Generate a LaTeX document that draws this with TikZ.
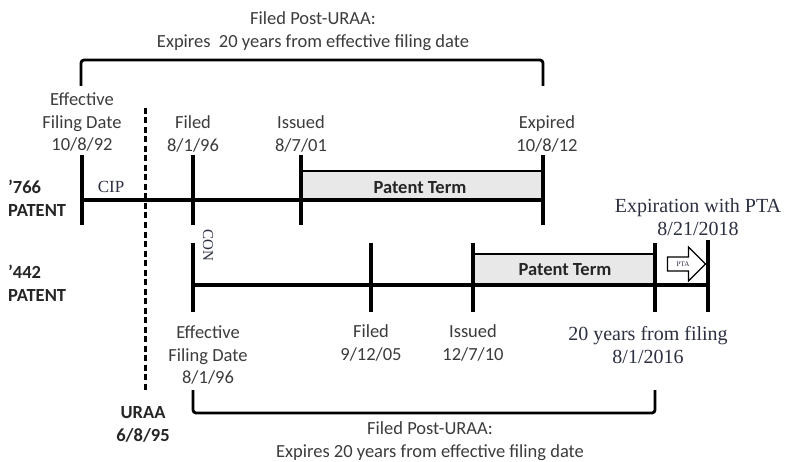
\documentclass[tikz,border=0pt]{standalone}
\usepackage{fontspec}
\setmainfont{Carlito}
\newfontfamily\serifface{Liberation Serif}
\usetikzlibrary{shapes.arrows}
\definecolor{txt}{HTML}{3C3C3C}
\definecolor{btxt}{HTML}{262626}
\definecolor{stxt}{HTML}{2C3040}
\begin{document}
\begin{tikzpicture}[x=1pt,y=-1pt,
  lbl/.style={align=center,text=txt,font=\fontsize{18.5}{22.5}\selectfont,inner sep=0pt},
  blbl/.style={align=center,text=btxt,font=\fontsize{18.5}{23}\selectfont\bfseries,inner sep=0pt},
  slbl/.style={align=center,text=stxt,font=\serifface\fontsize{20}{23.5}\selectfont,inner sep=0pt},
  tline/.style={line width=3.2pt},
  tick/.style={line width=3.2pt},
  bracket/.style={line width=2.8pt,rounded corners=3pt},
  termbox/.style={fill=gray!18,draw=black,line width=2pt},
  termtxt/.style={font=\fontsize{18.5}{18.5}\selectfont\bfseries,text=btxt,inner sep=0pt}]
\useasboundingbox (0,0) rectangle (786,462);
\fill[white] (0,0) rectangle (786,462);

% ---------- top bracket
\node[lbl] (toptxt) at (313,31) {Filed Post-URAA:\\Expires\ \ 20 years from effective filing date};
\coordinate (tbl) at (81,86);
\coordinate (tbr) at (543,86);
\draw[bracket] (tbl) -- (81,60) -- (543,60) -- (tbr);

% ---------- '766 patent
\coordinate (a1t) at (82,155); \coordinate (a1b) at (82,225);
\coordinate (a2t) at (193,155); \coordinate (a2b) at (193,225);
\coordinate (a3t) at (301,155); \coordinate (a3b) at (301,225);
\coordinate (a4t) at (543,155); \coordinate (a4b) at (543,225);
\coordinate (a1) at (82,200); \coordinate (a3) at (301,200); \coordinate (a4) at (543,200);
\node[termbox,minimum width=242pt,minimum height=28pt,inner sep=0pt,anchor=south west] (term1) at (301,200) {};
\node[termtxt] (term1t) at (420,188) {Patent Term};
\draw[tline] (a1) -- (a4);
\foreach \i in {1,2,3,4} \draw[tick] (a\i t) -- (a\i b);

\node[lbl] (eff1) at (82,122) {Effective\\Filing Date\\10/8/92};
\node[lbl] (fil1) at (193,134) {Filed\\8/1/96};
\node[lbl] (iss1) at (301,134) {Issued\\8/7/01};
\node[lbl] (exp1) at (547,134) {Expired\\10/8/12};
\node[text=stxt,font=\serifface\fontsize{17}{17}\selectfont,inner sep=0pt] (cip) at (111,187) {CIP};
\node[blbl,align=left,anchor=west] (p766) at (8,198) {\textquoteright766\\PATENT};

% ---------- URAA dashed line
\coordinate (ut) at (145,108);
\coordinate (ub) at (145,393);
\draw[line width=3pt,dash pattern=on 6pt off 3.5pt] (ut) -- (ub);
\node[blbl] (uraa) at (143,424) {URAA\\6/8/95};

% ---------- '442 patent
\coordinate (b1t) at (193,243); \coordinate (b1b) at (193,312);
\coordinate (b2t) at (371,243); \coordinate (b2b) at (371,312);
\coordinate (b3t) at (473,243); \coordinate (b3b) at (473,312);
\coordinate (b4t) at (655,243); \coordinate (b4b) at (655,312);
\coordinate (b5t) at (708,240); \coordinate (b5b) at (708,312);
\coordinate (b1) at (193,285); \coordinate (b5) at (708,285);
\node[termbox,minimum width=182pt,minimum height=30pt,inner sep=0pt,anchor=south west] (term2) at (473,285) {};
\node[termtxt] (term2t) at (565,270) {Patent Term};
\draw[tline] (b1) -- (b5);
\foreach \i in {1,2,3,4,5} \draw[tick] (b\i t) -- (b\i b);

\node[text=stxt,font=\serifface\fontsize{15}{15}\selectfont,inner sep=0pt,rotate=-90] (con) at (208,245) {CON};
\node[blbl,align=left,anchor=west] (p442) at (8,283) {\textquoteright442\\PATENT};

\node[single arrow,draw=black,fill=white,line width=1.2pt,single arrow head extend=10pt,
      minimum height=38pt,inner xsep=2pt,inner ysep=4pt,
      text=stxt,font=\serifface\fontsize{7}{7}\selectfont] (pta) at (683,264) {PTA};

\node[lbl] (eff2) at (208,355) {Effective\\Filing Date\\8/1/96};
\node[lbl] (fil2) at (371,343) {Filed\\9/12/05};
\node[lbl] (iss2) at (473,343) {Issued\\12/7/10};
\node[slbl] (twenty) at (648,345) {20 years from filing\\8/1/2016};
\node[slbl] (ptaexp) at (698,217) {Expiration with PTA\\8/21/2018};

% ---------- bottom bracket
\coordinate (bbl) at (193,390);
\coordinate (bbr) at (655,390);
\draw[bracket] (bbl) -- (193,413) -- (655,413) -- (bbr);
\node[lbl] (bottxt) at (430,441) {Filed Post-URAA:\\Expires 20 years from effective filing date};
\end{tikzpicture}
\end{document}
